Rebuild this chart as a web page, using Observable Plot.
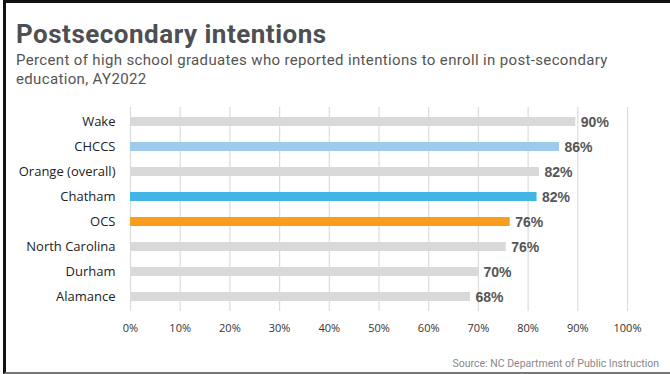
<!DOCTYPE html>
<html>
<head>
<meta charset="utf-8">
<script src="https://cdn.jsdelivr.net/npm/d3@7"></script>
<script src="https://cdn.jsdelivr.net/npm/@observablehq/plot@0.6"></script>
<style>
  html, body { margin: 0; padding: 0; background: #fff; }
  body { width: 670px; height: 374px; position: relative; overflow: hidden; }
  #frame {
    position: absolute; left: 3px; top: 0; width: 664px; height: 369px;
    border-top: 3px solid #111; border-left: 3px solid #111;
    border-right: 1px solid #999; border-bottom: 2px solid #777;
    box-sizing: content-box;
  }
  #title {
    position: absolute; left: 16px; top: 19px; margin: 0;
    font-family: Roboto, sans-serif; font-weight: 700; font-size: 26px;
    color: #4d4f53; white-space: nowrap; letter-spacing: 0.5px;
  }
  #subtitle {
    position: absolute; left: 16px; top: 51px; margin: 0;
    font-family: Roboto, sans-serif; font-size: 15px; line-height: 19px;
    color: #555; white-space: nowrap; letter-spacing: 0.35px;
  }
  #chart { position: absolute; left: 0; top: 100px; }
  #source {
    position: absolute; right: 11px; top: 357px;
    font-family: Roboto, sans-serif; font-size: 10.5px; color: #888; white-space: nowrap;
  }
</style>
</head>
<body>
<div id="frame"></div>
<div id="title">Postsecondary intentions</div>
<div id="subtitle">Percent of high school graduates who reported intentions to enroll in post-secondary<br>education, AY2022</div>
<div id="chart"></div>
<div id="source">Source: NC Department of Public Instruction</div>
<script>
const categories = ["Wake", "CHCCS", "Orange (overall)", "Chatham", "OCS", "North Carolina", "Durham", "Alamance"];
const values = [89.6, 86.3, 82.3, 81.8, 76.4, 75.6, 70.0, 68.4];
const xTicks = [0, 10, 20, 30, 40, 50, 60, 70, 80, 90, 100];

// styling
const highlight = { "CHCCS": "#9ccbeb", "Chatham": "#41b6e6", "OCS": "#f99d1c" };
const baseGray = "#d9d9d9";

const data = categories.map((c, i) => ({ name: c, value: values[i], color: highlight[c] || baseGray }));

const chart = Plot.plot({
  width: 670,
  height: 240,
  marginLeft: 130,
  marginRight: 43,
  marginTop: 7,
  marginBottom: 29,
  style: { fontFamily: "'Open Sans', sans-serif", background: "transparent", overflow: "visible" },
  x: { domain: [0, 100], label: null },
  y: { domain: categories, paddingInner: 0.65, paddingOuter: 0.325, label: null },
  marks: [
    Plot.gridX(xTicks, { stroke: "#dcdcdc", strokeOpacity: 1, strokeWidth: 1.2 }),
    Plot.barX(data, { y: "name", x1: 0, x2: "value", fill: "color" }),
    Plot.text(data, {
      y: "name", x: "value", text: d => Math.round(d.value) + "%",
      textAnchor: "start", dx: 5, dy: 1,
      fontFamily: "'Liberation Sans', Arial, sans-serif", fontWeight: 700, fontSize: 14, fill: "#555"
    }),
    Plot.axisX(xTicks, { tickSize: 0, tickPadding: 13, tickFormat: d => d + "%", fontSize: 11, fill: "#333", label: null }),
    Plot.axisY({ tickSize: 0, tickPadding: 15, fontSize: 13, fill: "#222", label: null })
  ]
});
document.getElementById("chart").appendChild(chart);
</script>
</body>
</html>
